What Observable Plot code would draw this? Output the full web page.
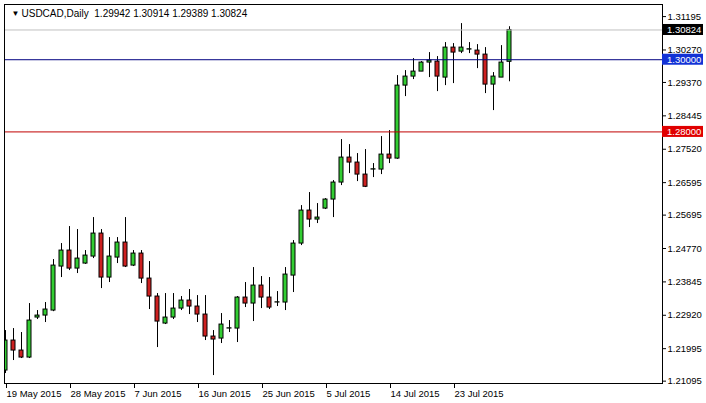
<!DOCTYPE html>
<html><head><meta charset="utf-8">
<script src="https://cdn.jsdelivr.net/npm/d3@7"></script>
<script src="https://cdn.jsdelivr.net/npm/@observablehq/plot@0.6"></script>
<style>html,body{margin:0;padding:0;background:#fff;overflow:hidden}</style>
</head><body><div id="chart"></div>
<script>
const symbol = "USDCAD,Daily";
const open = [1.21389,1.22220,1.21943,1.21749,1.22857,1.22912,1.23051,1.24270,1.24713,1.24214,1.24353,1.24547,1.25184,1.23965,1.24519,1.24935,1.24297,1.24630,1.23937,1.23439,1.22691,1.22857,1.23106,1.23328,1.23162,1.22940,1.22331,1.22275,1.22552,1.22552,1.23411,1.23245,1.23743,1.23411,1.23273,1.23273,1.24020,1.24907,1.25821,1.25572,1.25876,1.26126,1.26597,1.27289,1.27151,1.26818,1.26957,1.26957,1.27372,1.27261,1.29283,1.29533,1.29671,1.29921,1.29948,1.29505,1.30336,1.30225,1.30281,1.30253,1.30142,1.29311,1.29505,1.29942];
const high = [1.22497,1.22552,1.22442,1.23245,1.23051,1.23273,1.24464,1.24907,1.25378,1.25295,1.24713,1.25627,1.25295,1.25073,1.25073,1.25627,1.24713,1.24713,1.24408,1.23522,1.23522,1.23522,1.23439,1.23633,1.23466,1.23466,1.22497,1.22968,1.22774,1.23439,1.23827,1.24242,1.23993,1.23965,1.23577,1.24242,1.24990,1.25959,1.26320,1.26015,1.26153,1.26652,1.27788,1.27649,1.27400,1.27511,1.27123,1.27871,1.28037,1.29560,1.29699,1.30031,1.29948,1.30198,1.30087,1.30475,1.30447,1.31001,1.30475,1.30419,1.30336,1.29644,1.30391,1.30914];
const low = [1.21306,1.21666,1.21721,1.21721,1.22802,1.22719,1.23020,1.23965,1.24159,1.24076,1.24330,1.24491,1.23660,1.23827,1.24353,1.24242,1.24270,1.23799,1.23079,1.22026,1.22663,1.22802,1.23051,1.22940,1.22719,1.22220,1.21250,1.22137,1.22442,1.22165,1.23134,1.22746,1.23106,1.23079,1.23162,1.23051,1.23550,1.24851,1.25350,1.25461,1.25849,1.25627,1.26513,1.26846,1.26624,1.26458,1.26735,1.26818,1.27123,1.27240,1.28979,1.29450,1.29671,1.29505,1.29117,1.29283,1.29339,1.30170,1.30170,1.29754,1.29062,1.28591,1.29505,1.29389];
const close = [1.22220,1.21943,1.21749,1.22774,1.22912,1.23079,1.24297,1.24713,1.24214,1.24491,1.24574,1.25184,1.23965,1.24547,1.24935,1.24270,1.24630,1.23937,1.23439,1.22746,1.22857,1.23106,1.23328,1.23162,1.22940,1.22331,1.22248,1.22663,1.22560,1.23411,1.23245,1.23743,1.23411,1.23134,1.23280,1.24048,1.24907,1.25821,1.25572,1.25627,1.26126,1.26597,1.27289,1.27151,1.26818,1.26480,1.26965,1.27372,1.27261,1.29283,1.29533,1.29671,1.29921,1.29976,1.29533,1.30336,1.30198,1.30336,1.30290,1.30142,1.29311,1.29533,1.29921,1.30824];
const dateTicks = [0,8,16,24,32,40,48,56];
const dateLabels = ["19 May 2015","28 May 2015","7 Jun 2015","16 Jun 2015","25 Jun 2015","5 Jul 2015","14 Jul 2015","23 Jul 2015"];
const priceTicks = [1.31195,1.30270,1.29370,1.28445,1.27520,1.26595,1.25695,1.24770,1.23845,1.22920,1.21995,1.21095];
const levels = [1.30824, 1.30000, 1.28000];
const levelLine = ["#c0c0c0","#000080","#c00000"];
const levelBox = ["#000000","#1232d6","#e00000"];

const candles = open.map((o,i)=>({i, open:o, high:high[i], low:low[i], close:close[i]}));
const last = candles[candles.length-1];
const font = "Tahoma, 'Liberation Sans', Arial, sans-serif";

const labelBoxes = (index, scales, values, dims) => {
  const g = d3.create("svg:g");
  const x0 = dims.width - dims.marginRight;
  levels.forEach((p, k) => {
    const y = scales.y(p);
    g.append("rect").attr("x", x0).attr("y", y - 5.5).attr("width", 41).attr("height", 11).attr("fill", levelBox[k]);
    g.append("text").attr("x", x0 + 5).attr("y", y).attr("dy", "0.35em").attr("fill", "#fff")
      .attr("text-anchor", "start").attr("font-size", 9.5).attr("font-family", font).text(p.toFixed(5));
  });
  return g.node();
};

const chart = Plot.plot({
  width: 706, height: 403,
  marginTop: 4, marginRight: 44, marginBottom: 20, marginLeft: 4,
  style: {fontFamily: font, fontSize: "9.5px", background: "#fff", color: "#000"},
  x: {type: "linear", domain: [-0.125, 82.125], label: null},
  y: {type: "linear", domain: [1.2103, 1.3153], label: null},
  color: {type: "identity"},
  marks: [
    Plot.axisX({ticks: dateTicks, tickFormat: d => dateLabels[dateTicks.indexOf(d)], tickSize: 5, tickPadding: 2, textAnchor: "start", dx: 1, label: null}),
    Plot.axisY({anchor: "right", ticks: priceTicks, tickFormat: d => d.toFixed(5), tickSize: 3, tickPadding: 2, label: null}),
    Plot.ruleX(candles, {x: "i", y1: "low", y2: "high", stroke: "#000", clip: true}),
    Plot.rect(candles, {x1: d => d.i - 0.25, x2: d => d.i + 0.25, y1: "open", y2: "close",
      fill: d => d.close >= d.open ? "#32cd32" : "#cd2020", stroke: "#000", clip: true}),
    Plot.ruleY(levels, {y: d => d, stroke: (d, i) => levelLine[i]}),
    Plot.frame({stroke: "#000"}),
    labelBoxes,
    Plot.text([last], {frameAnchor: "top-left", text: () => "\u25BC", dx: 7, dy: 9, fontSize: 8, lineAnchor: "middle"}),
    Plot.text([last], {frameAnchor: "top-left",
      text: d => symbol + "\u00a0\u00a0" + [d.open, d.high, d.low, d.close].map(v => v.toFixed(5)).join(" "),
      dx: 17, dy: 9, textAnchor: "start", lineAnchor: "middle", fontSize: 10})
  ]
});
document.getElementById("chart").appendChild(chart);
</script>
</body></html>
